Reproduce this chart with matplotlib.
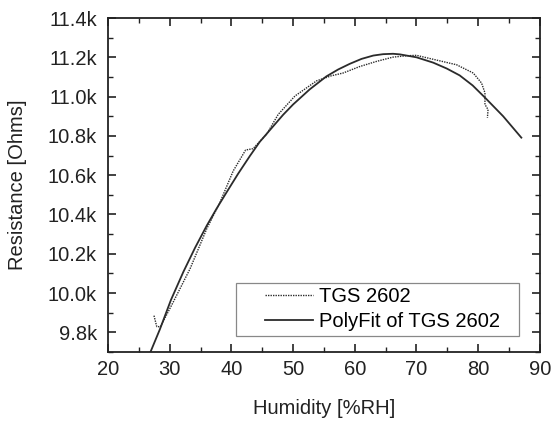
import matplotlib
matplotlib.use("Agg")
import matplotlib.pyplot as plt
from matplotlib.ticker import MultipleLocator, FuncFormatter
from matplotlib.patches import Rectangle

plt.rcParams['font.family'] = ['Liberation Sans', 'DejaVu Sans']

# Measured data (TGS 2602)
meas_x = [27.45, 27.9, 28.5, 30.6, 33.3, 36.0, 38.15, 40.3, 42.3, 43.5, 45.7, 47.6,
          50.3, 53.8, 56.2, 58.1, 60.8, 63.5, 66.2, 68.4, 70.0, 72.7, 76.5, 79.2,
          80.55, 81.1, 81.1, 81.6, 81.5]
meas_y = [9885, 9829, 9829, 9956, 10124, 10327, 10462, 10622, 10728, 10735, 10808, 10910,
          11003, 11080, 11106, 11120, 11153, 11179, 11201, 11208, 11210, 11190, 11162,
          11120, 11069, 11019, 10960, 10934, 10892]

# Polynomial fit curve
fit_x = [26.8, 28.4, 30.2, 32.2, 34.1, 36.0, 37.6, 39.2, 41.1, 43.0, 44.6, 46.8, 48.4,
         50.0, 52.7, 55.4, 57.3, 59.2, 61.1, 63.0, 64.6, 66.2, 67.3, 70.0, 72.7, 74.9,
         77.0, 79.1, 81.1, 84.05, 87.0]
fit_y = [9694, 9815, 9965, 10107, 10230, 10343, 10430, 10512, 10608, 10698, 10770, 10850,
         10908, 10960, 11037, 11103, 11138, 11167, 11192, 11209, 11216, 11218, 11215,
         11200, 11173, 11143, 11108, 11057, 10995, 10900, 10791]

fig = plt.figure(figsize=(5.52, 4.21), dpi=100)
ax = fig.add_axes([0.1957, 0.1639, 0.7823, 0.7933])

c = '#2b2b2b'
ax.plot(meas_x, meas_y, linestyle=(0, (1, 0.8)), color=c, lw=1.0, label='TGS 2602')
ax.plot(fit_x, fit_y, linestyle='-', color=c, lw=1.3, label='PolyFit of TGS 2602')

ax.set_xlim(20, 90)
ax.set_ylim(9700, 11400)
ax.xaxis.set_major_locator(MultipleLocator(10))
ax.xaxis.set_minor_locator(MultipleLocator(5))
ax.yaxis.set_major_locator(MultipleLocator(200))
ax.yaxis.set_minor_locator(MultipleLocator(100))
ax.yaxis.set_major_formatter(FuncFormatter(lambda v, p: f"{v/1000:.1f}k"))

ax.tick_params(which='both', direction='in', top=True, right=True, colors='#222222',
               labelsize=14.5)
ax.tick_params(which='major', length=6, width=1.2, pad=6)
ax.tick_params(which='minor', length=3.5, width=1.0)
ax.tick_params(axis='y', which='major', pad=8)
for s in ax.spines.values():
    s.set_linewidth(1.3)
    s.set_color('#222222')

ax.set_xlabel('Humidity [%RH]', fontsize=14.5, color='#222222', labelpad=14)
ax.set_ylabel('Resistance [Ohms]', fontsize=14.5, color='#222222', labelpad=15)

leg = ax.legend(loc='center left', bbox_to_anchor=(0.3634, 0.128), fontsize=14.5,
                frameon=False, handlelength=2.4, handletextpad=0.3,
                borderpad=0, borderaxespad=0, labelspacing=0.3)
ax.add_patch(Rectangle((0.2956, 0.0479), 0.6565, 0.1596, transform=ax.transAxes,
                       fill=False, edgecolor='#888888', lw=0.9, zorder=5))

fig.savefig('out.png', dpi=100)
